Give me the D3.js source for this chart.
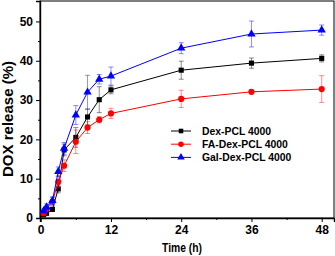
<!DOCTYPE html>
<html><head><meta charset="utf-8">
<script src="https://cdn.jsdelivr.net/npm/d3@7"></script>
<style>body{margin:0;background:#fff}svg{display:block}text{font-family:Arial,"Liberation Sans",sans-serif;font-weight:bold}</style>
</head><body>
<svg id="c" width="335" height="256"></svg>
<script>
const times = [0.5,1,2,3,4,6,8,10,12,24,36,48];
const dexPCL = [0.8,1.2,2.2,7.4,17.3,20.5,25.7,30.1,32.6,37.6,39.4,40.6];
const dexPCLErr = [0.3,0.4,0.5,1,1.5,2.5,2,3.3,1,2.3,1.3,0.9];
const faDexPCL = [1.2,2.3,4.2,9.2,13.3,19.4,23,25,26.6,30.3,32.1,32.8];
const faDexPCLErr = [0.4,0.8,1,1.5,1.5,3,1.5,0.8,1.3,2.2,0.5,3.4];
const galDexPCL = [1.8,2.8,4.4,11.8,17.7,26.2,32,35.3,36.1,43.2,46.8,47.8];
const galDexPCLErr = [0.5,0.8,1,1.2,1.5,2.4,4.3,1.2,2.3,1.4,3.3,1.3];
const seriesNames = ["Dex-PCL 4000","FA-Dex-PCL 4000","Gal-Dex-PCL 4000"];
const xTicks = [0,12,24,36,48];
const xMinor = [6,18,30,42];
const yTicks = [0,10,20,30,40,50];
const yMinor = [5,15,25,35,45];

const series = [
  {name:seriesNames[0], v:dexPCL, e:dexPCLErr, color:"#000000", sym:d3.symbolSquare, size:26},
  {name:seriesNames[1], v:faDexPCL, e:faDexPCLErr, color:"#ff0000", sym:d3.symbolCircle, size:30},
  {name:seriesNames[2], v:galDexPCL, e:galDexPCLErr, color:"#0000ff", sym:d3.symbolTriangle, size:30}
];

const svg = d3.select("#c");
const L=40, R=334, T=1, B=218;
const x = d3.scaleLinear().domain([-0.12,50.1]).range([L,R]);
const y = d3.scaleLinear().domain([0,55.2]).range([B,T]);

// frame
svg.append("rect").attr("x",L).attr("y",T).attr("width",R-L).attr("height",B-T)
  .attr("fill","none").attr("stroke","#000").attr("stroke-width",1);

// axes
const xa = svg.append("g").attr("transform",`translate(0,${B})`)
  .call(d3.axisBottom(x).tickValues(xTicks).tickSize(4).tickPadding(3));
xa.select(".domain").attr("stroke-width",1.4);
xa.selectAll("text").attr("font-size",12).attr("font-weight","bold").attr("fill","#000");
svg.append("g").attr("transform",`translate(0,${B})`)
  .call(d3.axisBottom(x).tickValues(xMinor).tickSize(2).tickFormat(""))
  .select(".domain").remove();

const ya = svg.append("g").attr("transform",`translate(${L},0)`)
  .call(d3.axisLeft(y).tickValues(yTicks).tickSize(4).tickPadding(3));
ya.select(".domain").attr("stroke-width",1.4);
ya.selectAll("text").attr("font-size",12).attr("font-weight","bold").attr("fill","#000");
svg.append("g").attr("transform",`translate(${L},0)`)
  .call(d3.axisLeft(y).tickValues(yMinor).tickSize(2).tickFormat(""))
  .select(".domain").remove();

// titles
svg.append("text").attr("x",182).attr("y",252).attr("text-anchor","middle")
  .attr("font-size",12).attr("textLength",40).attr("lengthAdjust","spacingAndGlyphs").text("Time (h)");
svg.append("text").attr("transform","translate(13,119) rotate(-90)").attr("text-anchor","middle")
  .attr("font-size",14).attr("textLength",116).attr("lengthAdjust","spacingAndGlyphs").text("DOX release (%)");

// series
const line = d3.line().x(d=>x(d[0])).y(d=>y(d[1]));
series.forEach(s=>{
  const g = svg.append("g");
  const pts = times.map((t,i)=>[t,s.v[i],s.e[i]]);
  pts.forEach(p=>{
    const xx=x(p[0]), y1=y(p[1]+p[2]), y2=y(p[1]-p[2]);
    g.append("line").attr("x1",xx).attr("x2",xx).attr("y1",y1).attr("y2",y2)
      .attr("stroke",s.color).attr("stroke-opacity",0.45).attr("stroke-width",1);
    [y1,y2].forEach(yy=>g.append("line").attr("x1",xx-2.5).attr("x2",xx+2.5).attr("y1",yy).attr("y2",yy)
      .attr("stroke",s.color).attr("stroke-opacity",0.45).attr("stroke-width",1));
  });
  g.append("path").datum(pts).attr("d",line).attr("fill","none").attr("stroke",s.color).attr("stroke-width",1);
  g.selectAll("path.m").data(pts).enter().append("path").attr("class","m")
    .attr("transform",d=>`translate(${x(d[0])},${y(d[1])})`)
    .attr("d",d3.symbol().type(s.sym).size(s.size)).attr("fill",s.color);
});

// legend
series.forEach((s,i)=>{
  const yy = 131 + i*13.2;
  svg.append("line").attr("x1",171).attr("x2",191).attr("y1",yy).attr("y2",yy).attr("stroke",s.color).attr("stroke-width",1);
  svg.append("path").attr("transform",`translate(181,${yy})`).attr("d",d3.symbol().type(s.sym).size(s.size*0.8)).attr("fill",s.color);
  svg.append("text").attr("x",202).attr("y",yy+4).attr("font-size",10.4).text(s.name);
});
</script>
</body></html>
